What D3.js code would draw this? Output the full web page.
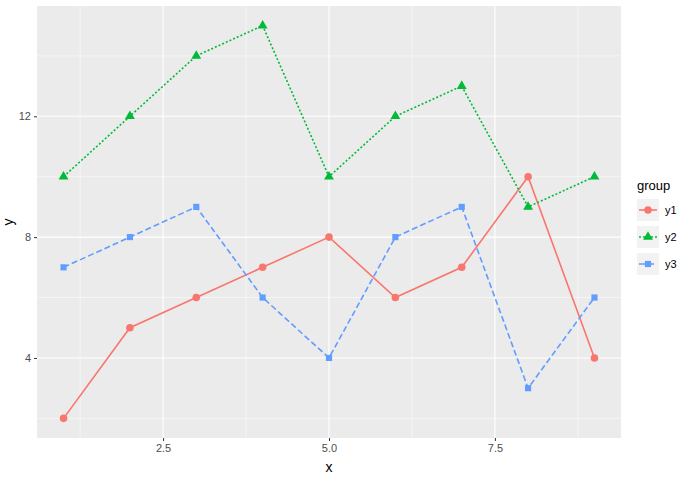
<!DOCTYPE html>
<html><head><meta charset="utf-8">
<script src="https://cdn.jsdelivr.net/npm/d3@7"></script>
<style>body{margin:0;background:#fff}text{font-family:"Liberation Sans",Arial,sans-serif}</style>
</head><body>
<svg id="c" width="692" height="478"></svg>
<script>
// data
var xs = [1, 2, 3, 4, 5, 6, 7, 8, 9];
var y1 = [2, 5, 6, 7, 8, 6, 7, 10, 4];
var y2 = [10, 12, 14, 15, 10, 12, 13, 9, 10];
var y3 = [7, 8, 9, 6, 4, 8, 9, 3, 6];
var groups = ["y1", "y2", "y3"];
var colors = ["#F8766D", "#00BA38", "#619CFF"];
var dashes = [null, "2,2", "6,3"];
var xTicks = [2.5, 5.0, 7.5];
var yTicks = [4, 8, 12];

var svg = d3.select("#c");
var pLeft = 37, pRight = 621, pTop = 6, pBottom = 438;

var x = d3.scaleLinear().domain([0.6, 9.4]).range([pLeft, pRight]);
var y = d3.scaleLinear().domain([1.35, 15.65]).range([pBottom, pTop]);

svg.append("rect").attr("x", pLeft).attr("y", pTop)
  .attr("width", pRight - pLeft).attr("height", pBottom - pTop).attr("fill", "#EBEBEB");

// minor grid
var xMinor = [1.25, 3.75, 6.25, 8.75], yMinor = [2, 6, 10, 14];
svg.selectAll(".xm").data(xMinor).enter().append("line")
  .attr("x1", d => x(d)).attr("x2", d => x(d)).attr("y1", pTop).attr("y2", pBottom)
  .attr("stroke", "#fff").attr("stroke-width", 0.5);
svg.selectAll(".ym").data(yMinor).enter().append("line")
  .attr("y1", d => y(d)).attr("y2", d => y(d)).attr("x1", pLeft).attr("x2", pRight)
  .attr("stroke", "#fff").attr("stroke-width", 0.5);
// major grid
svg.selectAll(".xg").data(xTicks).enter().append("line")
  .attr("x1", d => x(d)).attr("x2", d => x(d)).attr("y1", pTop).attr("y2", pBottom)
  .attr("stroke", "#fff").attr("stroke-width", 1.1);
svg.selectAll(".yg").data(yTicks).enter().append("line")
  .attr("y1", d => y(d)).attr("y2", d => y(d)).attr("x1", pLeft).attr("x2", pRight)
  .attr("stroke", "#fff").attr("stroke-width", 1.1);

// axes
var xAxis = svg.append("g").attr("transform", `translate(0,${pBottom})`)
  .call(d3.axisBottom(x).tickValues(xTicks).tickFormat(d3.format(".1f")).tickSize(3).tickSizeOuter(0));
var yAxis = svg.append("g").attr("transform", `translate(${pLeft},0)`)
  .call(d3.axisLeft(y).tickValues(yTicks).tickSize(3).tickSizeOuter(0));
[xAxis, yAxis].forEach(function(a) {
  a.select(".domain").remove();
  a.selectAll("line").attr("stroke", "#333");
  a.selectAll("text").attr("fill", "#4D4D4D").style("font-size", "11px");
});

svg.append("text").attr("x", (pLeft + pRight) / 2).attr("y", 472)
  .attr("text-anchor", "middle").style("font-size", "14px").text("x");
svg.append("text").attr("transform", `translate(13,${(pTop + pBottom) / 2}) rotate(-90)`)
  .attr("text-anchor", "middle").style("font-size", "14px").text("y");

var series = [y1, y2, y3];
var line = d3.line().x((d, i) => x(xs[i])).y(d => y(d));
var sym = [d3.symbolCircle, d3.symbolTriangle, d3.symbolSquare];
var symSize = [45, 42, 38];

series.forEach(function(vals, k) {
  svg.append("path").datum(vals).attr("d", line).attr("fill", "none")
    .attr("stroke", colors[k]).attr("stroke-width", 1.6)
    .attr("stroke-dasharray", dashes[k]);
  svg.selectAll(".p" + k).data(vals).enter().append("path")
    .attr("transform", (d, i) => `translate(${x(xs[i])},${y(d)})`)
    .attr("d", d3.symbol().type(sym[k]).size(symSize[k]))
    .attr("fill", colors[k]);
});

// legend
var lg = svg.append("g").attr("transform", "translate(637,0)");
lg.append("text").attr("x", 0).attr("y", 190).style("font-size", "13px").text("group");
groups.forEach(function(g, k) {
  var cy = 210 + k * 27;
  lg.append("rect").attr("x", 0).attr("y", cy - 11).attr("width", 22).attr("height", 22).attr("fill", "#F2F2F2");
  lg.append("line").attr("x1", 2).attr("x2", 20).attr("y1", cy).attr("y2", cy)
    .attr("stroke", colors[k]).attr("stroke-width", 1.6).attr("stroke-dasharray", dashes[k]);
  lg.append("path").attr("transform", `translate(11,${cy})`)
    .attr("d", d3.symbol().type(sym[k]).size(symSize[k])).attr("fill", colors[k]);
  lg.append("text").attr("x", 28).attr("y", cy + 4).style("font-size", "11px").text(g);
});
</script>
</body></html>
